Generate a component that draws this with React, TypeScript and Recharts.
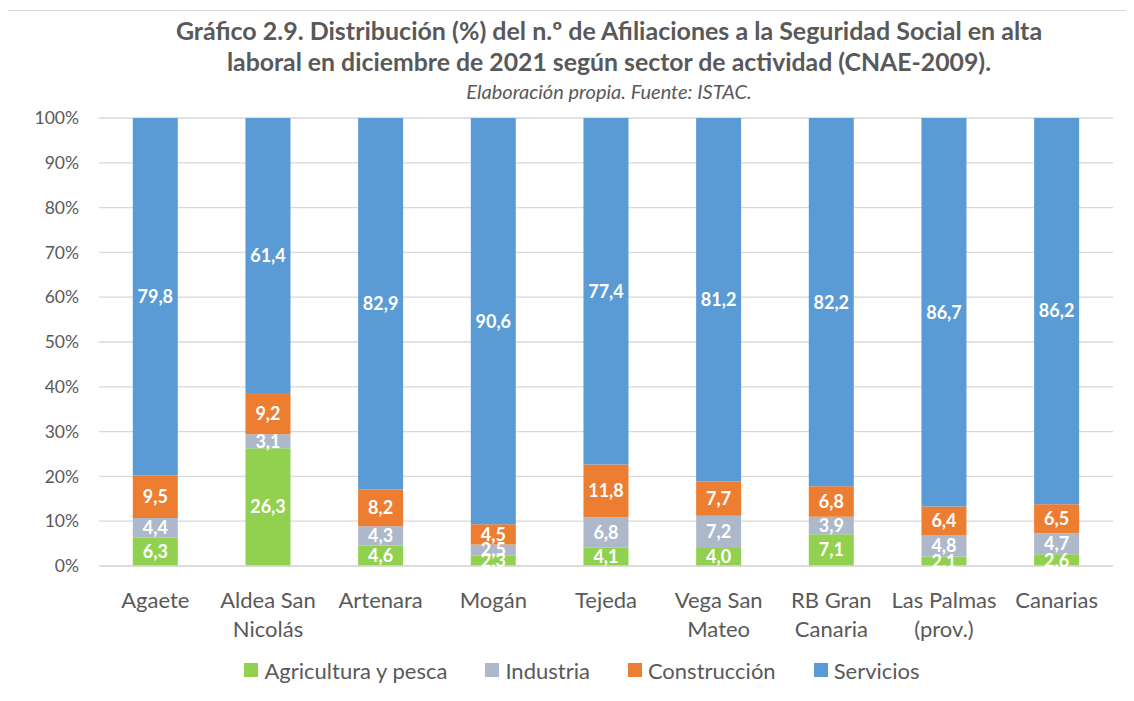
import React from 'react';
import { BarChart, Bar, XAxis, YAxis, CartesianGrid, Legend, LabelList } from 'recharts';

const categories = ['Agaete', 'Aldea San Nicolás', 'Artenara', 'Mogán', 'Tejeda', 'Vega San Mateo', 'RB Gran Canaria', 'Las Palmas (prov.)', 'Canarias'];
const tickLines: string[][] = [
  ['Agaete'],
  ['Aldea San', 'Nicolás'],
  ['Artenara'],
  ['Mogán'],
  ['Tejeda'],
  ['Vega San', 'Mateo'],
  ['RB Gran', 'Canaria'],
  ['Las Palmas', '(prov.)'],
  ['Canarias'],
];
const agricultura = [6.3, 26.3, 4.6, 2.3, 4.1, 4.0, 7.1, 2.1, 2.6];
const industria = [4.4, 3.1, 4.3, 2.5, 6.8, 7.2, 3.9, 4.8, 4.7];
const construccion = [9.5, 9.2, 8.2, 4.5, 11.8, 7.7, 6.8, 6.4, 6.5];
const servicios = [79.8, 61.4, 82.9, 90.6, 77.4, 81.2, 82.2, 86.7, 86.2];
const yTicks = [0, 0.1, 0.2, 0.3, 0.4, 0.5, 0.6, 0.7, 0.8, 0.9, 1];

const seriesNames = ['Agricultura y pesca', 'Industria', 'Construcción', 'Servicios'];
const seriesColors = ['#92D050', '#ADB9CA', '#ED7D31', '#5B9BD5'];

const data = categories.map((c, i) => ({
  name: c,
  agricultura: agricultura[i],
  industria: industria[i],
  construccion: construccion[i],
  servicios: servicios[i],
}));
const keys = ['agricultura', 'industria', 'construccion', 'servicios'];

const FONT = 'Lato, "Open Sans", sans-serif';
const TXT = '#595959';

const fmt = (v: any) => Number(v).toFixed(1).replace('.', ',');

const XTick = (props: any) => {
  const { x, y, payload } = props;
  const lines = tickLines[payload.index] || [String(payload.value)];
  return (
    <text x={x} y={y + 40} textAnchor="middle" fill={TXT} fontFamily={FONT} fontSize={22}>
      {lines.map((l, k) => (
        <tspan key={k} x={x} dy={k === 0 ? 0 : 29}>{l}</tspan>
      ))}
    </text>
  );
};

const LegendContent = () => (
  <div style={{ width: 1148, height: 40, display: 'flex', justifyContent: 'center', alignItems: 'center', fontFamily: FONT, fontSize: 22, color: TXT }}>
    {seriesNames.map((n, i) => (
      <div key={i} style={{ display: 'flex', alignItems: 'center', marginRight: i < 3 ? 38 : 0 }}>
        <span style={{ display: 'inline-block', width: 14, height: 14, background: seriesColors[i], marginRight: 6 }} />
        <span>{n}</span>
      </div>
    ))}
  </div>
);

export default function App() {
  return (
    <div style={{ position: 'relative', width: 1126, height: 693, overflow: 'hidden', background: '#fff' }}>
      <div style={{ position: 'absolute', left: -1, top: 2, width: 1300, height: 900, border: '1px solid #D9D9D9', boxSizing: 'border-box' }} />
      <div style={{ position: 'absolute', left: 0, top: 6, width: 1202, textAlign: 'center', fontFamily: FONT, color: TXT }}>
        <div style={{ fontWeight: 700, fontSize: 25, lineHeight: '32px', whiteSpace: 'nowrap' }}>
          Gráfico 2.9. Distribución (%) del n.º de Afiliaciones a la Seguridad Social en alta
        </div>
        <div style={{ fontWeight: 700, fontSize: 24.8, lineHeight: '32px', whiteSpace: 'nowrap' }}>
          laboral en diciembre de 2021 según sector de actividad (CNAE-2009).
        </div>
        <div style={{ fontStyle: 'italic', fontSize: 20, lineHeight: '26px' }}>
          Elaboración propia. Fuente: ISTAC.
        </div>
      </div>
      <div style={{ position: 'absolute', left: 0, top: 0 }}>
        <BarChart width={1126} height={693} data={data} stackOffset="expand" margin={{ top: 110, right: 21, left: 31, bottom: 11 }} barCategoryGap="30%">
          <CartesianGrid vertical={false} stroke="#D9D9D9" strokeWidth={1.3} />
          <XAxis dataKey="name" height={84} tick={<XTick />} tickLine={false} tickSize={0} axisLine={{ stroke: '#D9D9D9', strokeWidth: 1.3 }} interval={0} />
          <YAxis width={60} domain={[0, 1]} ticks={yTicks} tickFormatter={(v: number) => `${Math.round(v * 100)}%`} tickLine={false} axisLine={false} tickSize={0} tickMargin={20} tick={{ fill: TXT, fontFamily: FONT, fontSize: 17.5 }} />
          <Legend verticalAlign="bottom" height={40} wrapperStyle={{ left: 0, width: 1126 }} content={<LegendContent />} />
          {keys.map((k, i) => (
            <Bar key={k} dataKey={k} name={seriesNames[i]} stackId="a" fill={seriesColors[i]} isAnimationActive={false}>
              <LabelList dataKey={k} position="center" formatter={fmt} fill="#FFFFFF" fontFamily={FONT} fontWeight={700} fontSize={18} />
            </Bar>
          ))}
        </BarChart>
      </div>
    </div>
  );
}
